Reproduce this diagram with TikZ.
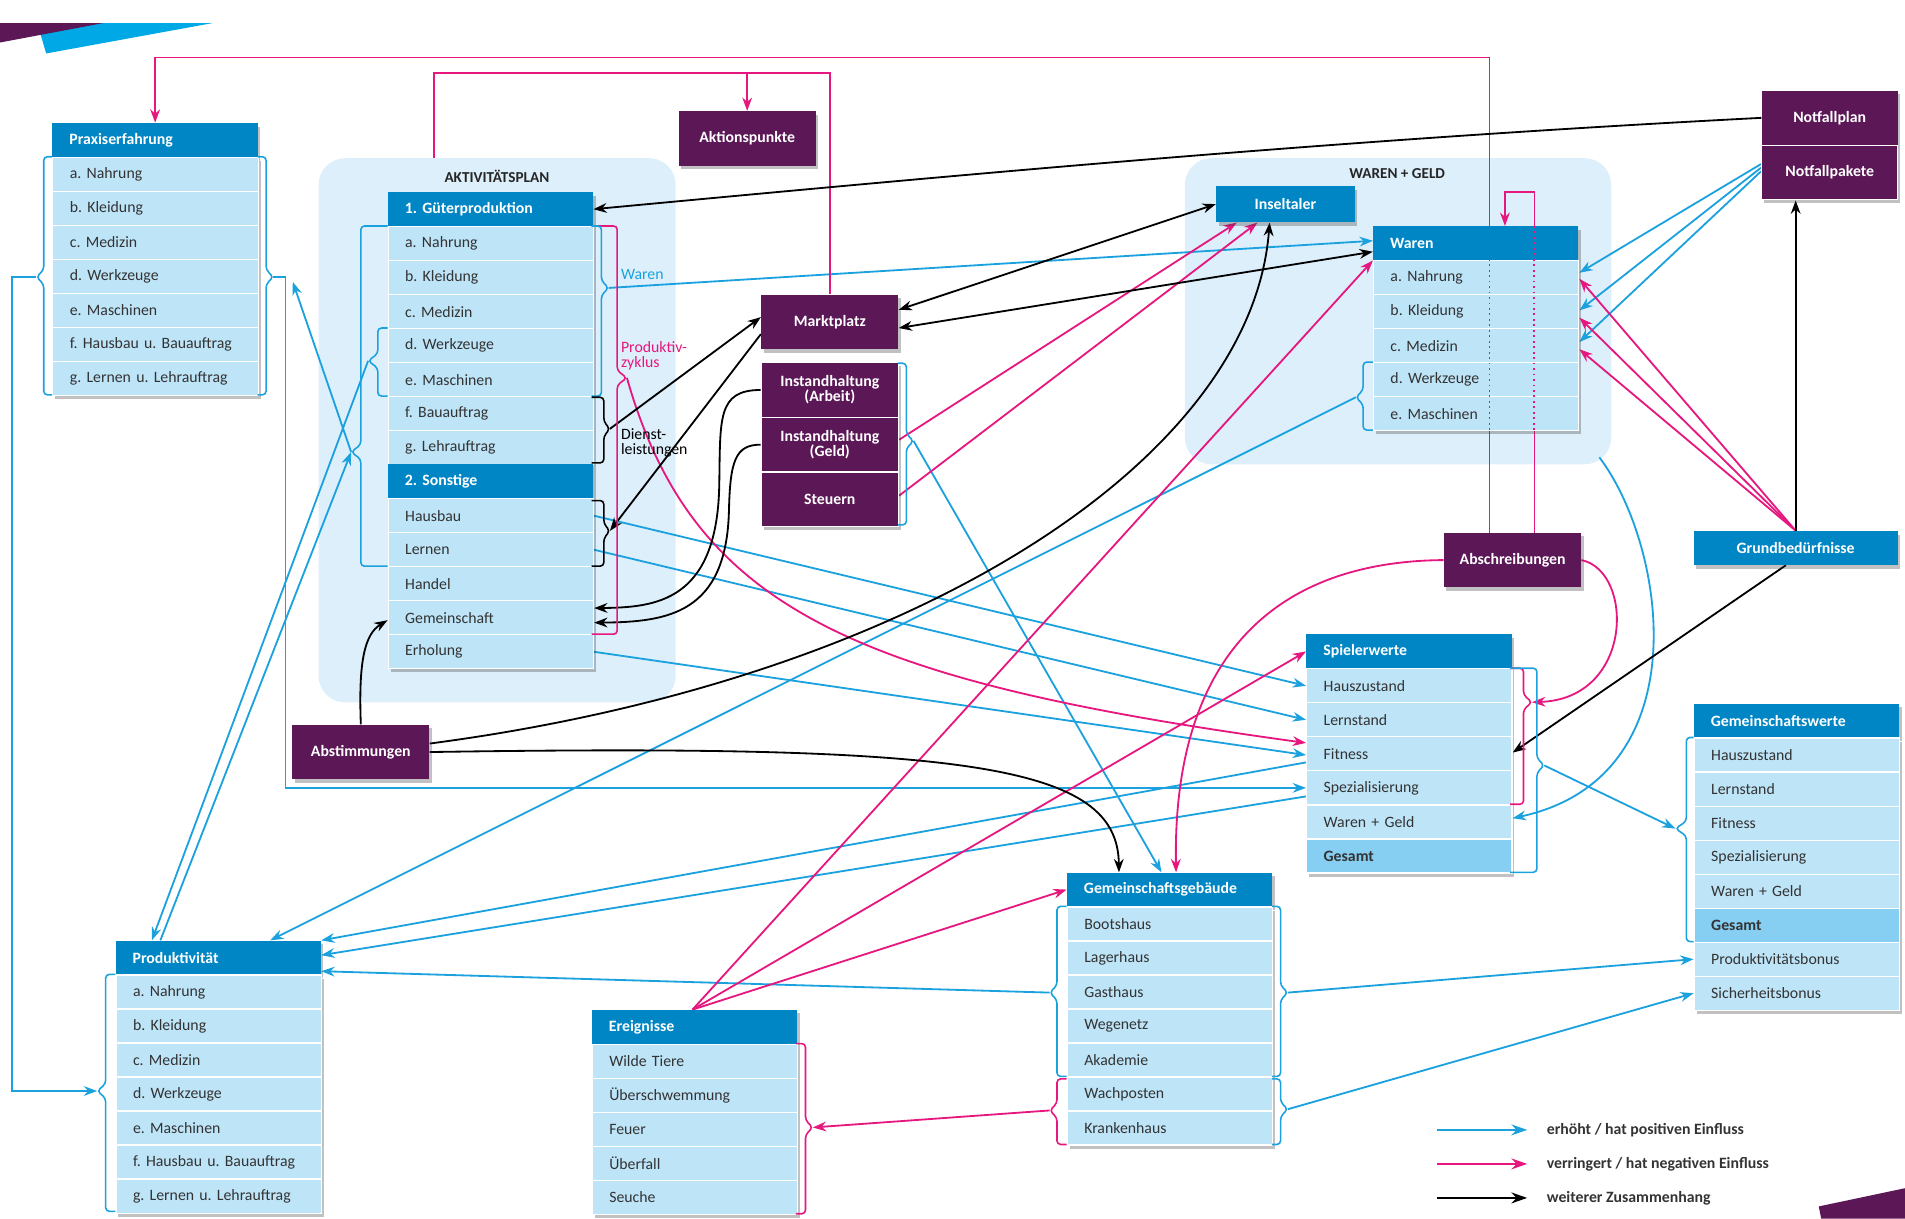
\documentclass[tikz,border=0pt]{standalone}
\usepackage{fontspec}
\setmainfont{Carlito}
\usetikzlibrary{arrows.meta,shadows}

\definecolor{kopfblau}{HTML}{0086C4}
\definecolor{zeilenblau}{HTML}{BEE4F8}
\definecolor{gesamtblau}{HTML}{86CEF2}
\definecolor{gruppenblau}{HTML}{DDEFFB}
\definecolor{lila}{HTML}{5B1756}
\definecolor{pfeilblau}{HTML}{1BA1DE}
\definecolor{pfeilrot}{HTML}{E6177E}
\definecolor{schrift}{HTML}{333333}
\definecolor{ecke}{HTML}{00A9E6}

\newcommand\kf{\fontsize{13}{12.5}\selectfont\bfseries}
\newcommand\zf{\fontsize{13}{12}\selectfont}

\pgfdeclarelayer{grund}
\pgfdeclarelayer{linien}
\pgfsetlayers{grund,linien,main}

\tikzset{
  schatten/.style={drop shadow={shadow xshift=2pt,shadow yshift=-3pt,opacity=.3,fill=black!80}},
  kopf/.style={anchor=north west, fill=kopfblau, text=white, font=\kf, minimum height=28pt,
    text width=141pt, inner xsep=14pt, inner ysep=0pt, align=left, schatten},
  zeile/.style={kopf, fill=zeilenblau, text=schrift, font=\zf, draw=white, line width=1pt},
  gesamt/.style={zeile, fill=gesamtblau, font=\kf},
  lilabox/.style={fill=lila, text=white, font=\kf, align=center, minimum width=113pt,
    minimum height=45pt, inner sep=2pt, schatten},
  blaubox/.style={fill=kopfblau, text=white, font=\kf, minimum height=28pt, inner sep=2pt, schatten},
  gruppe/.style={fill=gruppenblau, rounded corners=22pt, anchor=north west, inner sep=0pt},
  titel/.style={font=\fontsize{12.5}{12}\selectfont\bfseries, text=black!85},
  erhoeht/.style={draw=pfeilblau, line width=1.5pt, ->},
  verringert/.style={draw=pfeilrot, line width=1.5pt, ->},
  zusammen/.style={draw=black, line width=1.5pt, ->},
  legende/.style={anchor=west, font=\fontsize{13}{12}\selectfont\bfseries, text=schrift, inner sep=0pt},
  legpfeil/.style={-{Stealth[length=13pt,width=9pt]}},
}

% list: [gesamt row] name, x, y, title, rows
\newcommand\liste[6][0]{%
  \node[kopf] (#2) at (#3,#4) {#5};
  \foreach \t [count=\i] in {#6}{
    \ifnum\i=#1\relax
      \node[gesamt] (#2-\i) at (#3,{#4+28*\i}) {\t};
    \else
      \node[zeile] (#2-\i) at (#3,{#4+28*\i}) {\t};
    \fi
  }
}
% bracket: colour, tip name, box x, line x, tip x, top, bottom, tip y
\newcommand\klammer[8]{%
  \draw[#1, line width=1.3pt, rounded corners=3pt] (#3,#6) -| (#4,{#8-6})
    -- (#5,#8) coordinate (#2) -- (#4,{#8+6}) |- (#3,#7);
}

\frenchspacing
\begin{document}
\begin{tikzpicture}[x=1pt,y=-1pt,>={Stealth[length=11pt,width=8pt]}]
\useasboundingbox (0,0) rectangle (1568,1003);

\begin{pgfonlayer}{grund}
  \fill[ecke] (33,27) -- (70,19) -- (175,19) -- (38,44) -- cycle;
  \fill[lila] (0,19) -- (85,19) -- (0,35) -- cycle;
  \fill[lila] (1497,993) -- (1568,978) -- (1568,1003) -- (1499,1003) -- cycle;
  \node[gruppe, minimum width=294pt, minimum height=448pt] (agruppe) at (262,130) {};
  \node[titel] at (409,145) {AKTIVITÄTSPLAN};
  \node[gruppe, minimum width=351pt, minimum height=252pt] (wgruppe) at (975,130) {};
  \node[titel] at (1150,143) {WAREN + GELD};
\end{pgfonlayer}

% lists
\liste{praxis}{43}{101}{Praxiserfahrung}{a. Nahrung, b. Kleidung, c. Medizin, d. Werkzeuge,
  e. Maschinen, f. Hausbau u. Bauauftrag, g. Lernen u. Lehrauftrag}
\liste{akt}{319}{158}{1. Güterproduktion}{a. Nahrung, b. Kleidung, c. Medizin, d. Werkzeuge,
  e. Maschinen, f. Bauauftrag, g. Lehrauftrag}
\liste{son}{319}{382}{2. Sonstige}{Hausbau, Lernen, Handel, Gemeinschaft, Erholung}
\liste{waren}{1130}{186}{Waren}{a. Nahrung, b. Kleidung, c. Medizin, d. Werkzeuge, e. Maschinen}
\liste[6]{spiel}{1075}{522}{Spielerwerte}{Hauszustand, Lernstand, Fitness, Spezialisierung,
  Waren + Geld, Gesamt}
\liste[6]{gwerte}{1394}{579}{Gemeinschaftswerte}{Hauszustand, Lernstand, Fitness, Spezialisierung,
  Waren + Geld, Gesamt, Produktivitätsbonus, Sicherheitsbonus}
\liste{geb}{878}{718}{Gemeinschaftsgebäude}{Bootshaus, Lagerhaus, Gasthaus, Wegenetz, Akademie,
  Wachposten, Krankenhaus}
\liste{ereig}{487}{831}{Ereignisse}{Wilde Tiere, Überschwemmung, Feuer, Überfall, Seuche}
\liste{prod}{95}{774}{Produktivität}{a. Nahrung, b. Kleidung, c. Medizin, d. Werkzeuge,
  e. Maschinen, f. Hausbau u. Bauauftrag, g. Lernen u. Lehrauftrag}

% single boxes
\node[lilabox] (aktion) at (615,114) {Aktionspunkte};
\node[lilabox] (markt) at (683,265) {Marktplatz};
\node[lilabox, draw=white, line width=1pt] (inst-a) at (683,321) {Instandhaltung\\(Arbeit)};
\node[lilabox, draw=white, line width=1pt] (inst-g) at (683,366) {Instandhaltung\\(Geld)};
\node[lilabox, draw=white, line width=1pt] (steuern) at (683,411) {Steuern};
\node[lilabox] (abst) at (297,619) {Abstimmungen};
\node[lilabox] (abschr) at (1245,461) {Abschreibungen};
\node[lilabox, minimum width=112pt] (notplan) at (1506,97) {Notfallplan};
\node[lilabox, minimum width=112pt, draw=white, line width=1pt] (notpak) at (1506,142) {Notfallpakete};
\node[blaubox, minimum width=114pt, minimum height=30pt] (taler) at (1058,168) {Inseltaler};
\node[blaubox, minimum width=168pt] (grund) at (1478,451) {Grundbedürfnisse};

% brackets
\klammer{pfeilblau}{praxisL}{43}{36}{30}{129}{325}{228}
\klammer{pfeilblau}{praxisR}{212}{219}{225}{129}{325}{228}
\klammer{pfeilblau}{aktL}{319}{297}{289}{186}{466}{372}
\klammer{pfeilblau}{aktW}{319}{311}{303}{270}{326}{297}
\klammer{pfeilrot}{zyklus}{487}{508}{516}{186}{522}{311}
\klammer{pfeilblau}{aktR}{487}{495}{501}{186}{326}{237}
\klammer{black}{dienst}{487}{497}{502}{327}{381}{353}
\klammer{black}{hausbau}{487}{497}{502}{412}{466}{437}
\klammer{pfeilblau}{instR}{739}{746}{752}{299}{432}{363}
\klammer{pfeilblau}{warenL}{1130}{1122}{1116}{298}{354}{327}
\klammer{pfeilrot}{spielM}{1243}{1254}{1261}{550}{662}{578}
\klammer{pfeilblau}{spielR}{1243}{1265}{1271}{550}{718}{630}
\klammer{pfeilblau}{gwerteL}{1394}{1388}{1379}{607}{775}{682}
\klammer{pfeilblau}{gebL}{878}{870}{864}{746}{886}{817}
\klammer{pfeilrot}{gebM}{878}{870}{864}{888}{942}{914}
\klammer{pfeilblau}{gebR}{1047}{1054}{1060}{746}{886}{817}
\klammer{pfeilblau}{gebS}{1047}{1054}{1060}{888}{942}{913}
\klammer{pfeilrot}{ereigR}{655}{663}{669}{859}{999}{928}
\klammer{pfeilblau}{prodL}{95}{87}{80}{802}{997}{898}

% bracket labels
\node[anchor=west, text=pfeilblau, font=\zf, inner sep=0pt] (lwaren) at (511,226) {Waren};
\node[anchor=north west, text=pfeilrot, font=\zf, align=left, inner sep=0pt] (lzyklus) at (511,281) {Produktiv-\\zyklus};
\node[anchor=north west, text=black, font=\zf, align=left, inner sep=0pt] (ldienst) at (511,353) {Dienst-\\leistungen};

\begin{pgfonlayer}{linien}
  % positive
  \draw[erhoeht] (praxisR) -- ++(10,0) |- (spiel-4.west);
  \draw[erhoeht] (praxisL) -- ++(-20,0) |- (prodL);
  \draw[erhoeht] (aktL) -- ([shift={(16,4)}]praxisR);
  \draw[erhoeht] ([xshift=37pt]prod.north west) -- (aktL);
  \draw[erhoeht] (aktW) -- ([xshift=30pt]prod.north west);
  \draw[erhoeht] (aktR) -- ([yshift=2pt]waren.west);
  \draw[erhoeht] (son-1.east) -- (spiel-1.west);
  \draw[erhoeht] (son-2.east) -- (spiel-2.west);
  \draw[erhoeht] (son-5.east) -- ([yshift=-1pt]spiel-3.west);
  \draw[erhoeht] ([yshift=-7pt]spiel-3.west) -- (prod.north east);
  \draw[erhoeht] ([yshift=-7pt]spiel-4.west) -- ([yshift=2pt]prod.east);
  \draw[erhoeht] (gebL) -- ([yshift=3pt]prod.south east);
  \draw[erhoeht] (warenL) -- ([xshift=-42pt]prod.north east);
  \draw[erhoeht] (instR) -- ([xshift=78pt]geb.north west);
  \draw[erhoeht] ([yshift=7pt]notpak.west) -- ([yshift=4pt]waren-1.east);
  \draw[erhoeht] ([yshift=4pt]notpak.west) -- ([yshift=1pt]waren-2.east);
  \draw[erhoeht] ([yshift=1pt]notpak.west) -- ([yshift=3pt]waren-3.east);
  \draw[erhoeht] ([shift={(-10,-6)}]wgruppe.south east) .. controls (1372,450) and (1400,640) .. ([yshift=3pt]spiel-5.east);
  \draw[erhoeht] (spielR) -- (gwerteL);
  \draw[erhoeht] (gebR) -- (gwerte-7.west);
  \draw[erhoeht] (gebS) -- (gwerte-8.west);
  % negative
  \draw[verringert] ([xshift=-19pt]abschr.north) -- ++(0,-391) -| (praxis.north);
  \draw[verringert] ([xshift=18pt]abschr.north) -- ++(0,-280) -| ([xshift=24pt]waren.north);
  \draw[verringert, -] (markt.north) -- ++(0,-182) coordinate (mtop) -| ([xshift=95pt]agruppe.north west);
  \draw[verringert] (aktion.north |- mtop) -- (aktion.north);
  \draw[verringert] (zyklus) .. controls (570,500) and (700,560) .. ([yshift=9pt]spiel-3.west);
  \draw[verringert] ([yshift=4pt]inst-g.east) -- ([xshift=-40pt]taler.south);
  \draw[verringert] ([yshift=3pt]steuern.east) -- ([xshift=-23pt]taler.south);
  \draw[verringert] ([xshift=83pt]ereig.north west) -- (geb.west);
  \draw[verringert] ([xshift=83pt]ereig.north west) -- (spiel.west);
  \draw[verringert] ([xshift=83pt]ereig.north west) -- (waren.south west);
  \draw[verringert] (abschr.west) .. controls (1050,462) and (965,540) .. ([xshift=90pt]geb.north west);
  \draw[verringert] (abschr.east) .. controls (1345,470) and (1345,575) .. (spielM);
  \draw[verringert] (grund.north) -- ([yshift=-1pt]waren-1.east);
  \draw[verringert] (grund.north) -- ([yshift=-5pt]waren-2.east);
  \draw[verringert] (grund.north) -- ([yshift=-3pt]waren-3.east);
  \draw[verringert] (gebM) -- (ereigR);
  % other links
  \draw[zusammen] (notplan.west) .. controls (1100,115) and (800,143) .. (akt.east);
  \draw[zusammen] (dienst) -- ([yshift=4pt]markt.west);
  \draw[zusammen] ([yshift=-10pt]markt.west) -- (hausbau);
  \draw[zusammen] (inst-a.west) .. controls (590,321) and (593,345) .. (592,400)
    .. controls (590,495) and (540,500) .. ([yshift=8pt]son-4.east);
  \draw[zusammen] (inst-g.west) .. controls (605,366) and (601,380) .. (600,420)
    .. controls (598,505) and (550,512) .. ([yshift=-4pt]son-4.east);
  \draw[zusammen] (abst.north) .. controls (295,545) and (300,522) .. ([yshift=-2pt]son-4.west);
  \draw[zusammen] ([yshift=7pt]abst.east) .. controls (750,560) and (1030,380) .. ([xshift=-13pt]taler.south);
  \draw[zusammen] (abst.east) .. controls (800,612) and (920,630) .. ([xshift=43pt]geb.north west);
  \draw[zusammen, <->] ([yshift=10pt]markt.east) -- (taler.west);
  \draw[zusammen, <->] ([yshift=-5pt]markt.east) -- ([yshift=-7pt]waren.west);
  \draw[zusammen] (grund.north) -- (grund.north |- notpak.south);
  \draw[zusammen] ([xshift=-8pt]grund.south) -- ([yshift=1pt]spiel-3.east);
\end{pgfonlayer}

% dotted over the Waren list
\coordinate (lp1) at ([xshift=-19pt]abschr.north);
\coordinate (lp2) at ([xshift=18pt]abschr.north);
\draw[pfeilrot, line width=1.6pt, dash pattern=on 1.5pt off 3pt] (lp1 |- waren.north) -- (lp1 |- waren-5.south);
\draw[pfeilrot, line width=1.6pt, dash pattern=on 1.5pt off 3pt] (lp2 |- waren.north) -- (lp2 |- waren-5.south);

% legend
\node[legende] (leg1) at (1273,930) {erhöht / hat positiven Einfluss};
\node[legende] (leg2) at (1273,958) {verringert / hat negativen Einfluss};
\node[legende] (leg3) at (1273,986) {weiterer Zusammenhang};
\draw[erhoeht, legpfeil] ([xshift=-90pt]leg1.west) -- ([xshift=-16pt]leg1.west);
\draw[verringert, legpfeil] ([xshift=-90pt]leg2.west) -- ([xshift=-16pt]leg2.west);
\draw[zusammen, legpfeil] ([xshift=-90pt]leg3.west) -- ([xshift=-16pt]leg3.west);
\end{tikzpicture}
\end{document}
